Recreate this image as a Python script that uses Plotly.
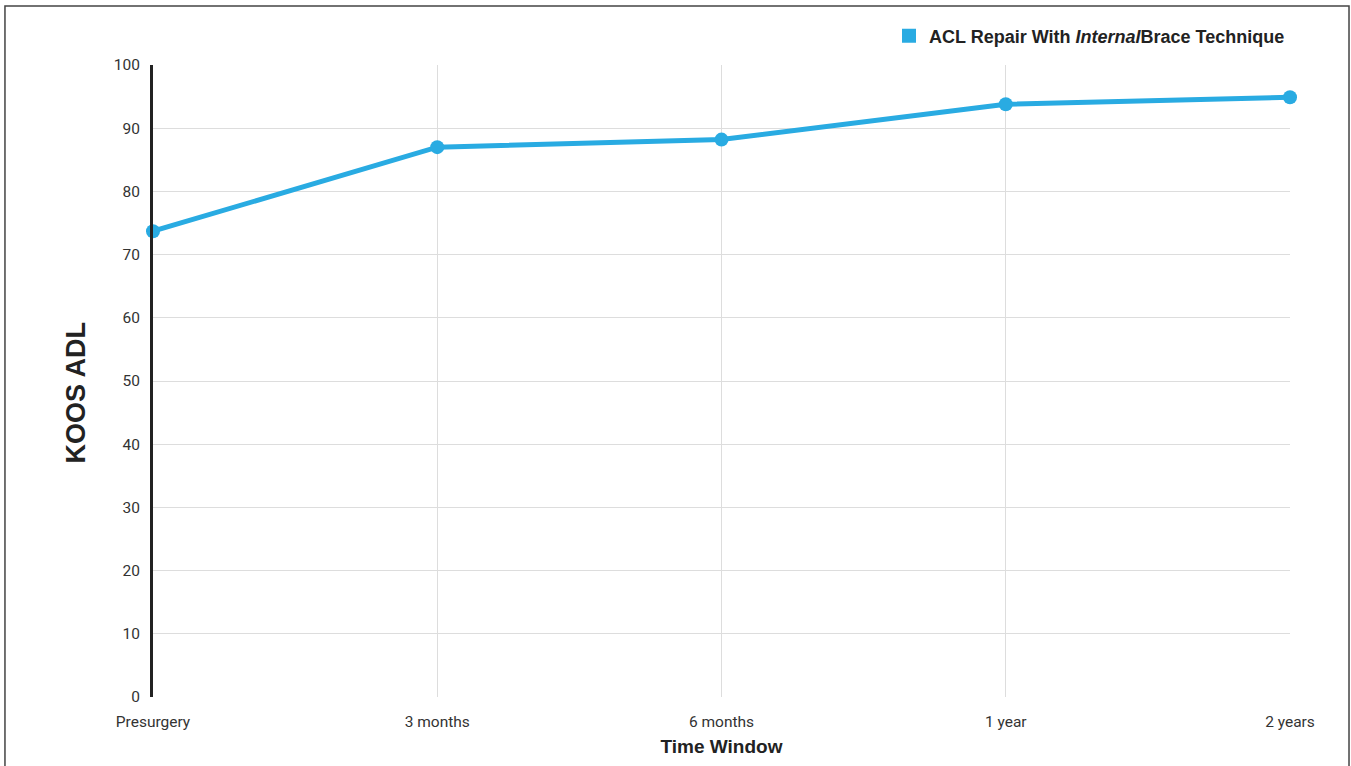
import plotly.graph_objects as go

categories = ["Presurgery", "3 months", "6 months", "1 year", "2 years"]
koos_adl = [73.7, 87.0, 88.2, 93.8, 94.9]
series_name = "<b>ACL Repair With <i>Internal</i>Brace Technique</b>"
y_ticks = [0, 10, 20, 30, 40, 50, 60, 70, 80, 90, 100]

BLUE = "#29ABE2"

fig = go.Figure()
fig.add_trace(go.Scatter(
    x=categories, y=koos_adl, mode="lines+markers",
    line=dict(color=BLUE, width=5),
    marker=dict(color=BLUE, size=14),
    showlegend=False, cliponaxis=False,
))
fig.add_trace(go.Scatter(
    x=[None], y=[None], mode="markers", name=series_name,
    marker=dict(color=BLUE, size=14, symbol="square"),
    showlegend=True,
))

fig.update_layout(
    width=1351, height=766,
    margin=dict(l=153, r=61, t=65, b=66),
    paper_bgcolor="white", plot_bgcolor="white",
    font=dict(family="Roboto, Liberation Sans, sans-serif", color="#333333", size=15),
    legend=dict(
        x=1.0, xanchor="right", y=1.046, yanchor="middle",
        font=dict(family="Liberation Sans, Arial, sans-serif", size=18, color="#222222"),
        bgcolor="rgba(0,0,0,0)", itemwidth=30,
    ),
    xaxis=dict(
        type="category", range=[0, 4],
        showgrid=True, gridcolor="#dddddd", gridwidth=1,
        showline=False, zeroline=False,
        ticks="outside", ticklen=10, tickcolor="rgba(0,0,0,0)",
        tickfont=dict(size=15.5, color="#333333"),
        title=dict(text="<b>Time Window</b>", standoff=10,
                   font=dict(family="Liberation Sans, Arial, sans-serif", size=19, color="#222222")),
    ),
    yaxis=dict(
        range=[0, 100], tickvals=y_ticks,
        showgrid=True, gridcolor="#dddddd", gridwidth=1,
        zeroline=False,
        showline=True, linecolor="#222222", linewidth=3,
        ticks="outside", ticklen=7, tickcolor="rgba(0,0,0,0)",
        tickfont=dict(size=15.5, color="#333333"),
    ),
    annotations=[dict(
        text="<b>KOOS ADL</b>", textangle=-90, showarrow=False,
        xref="paper", yref="paper", x=-0.0681, y=0.481,
        xanchor="center", yanchor="middle",
        font=dict(family="Liberation Sans, Arial, sans-serif", size=27, color="#222222"),
    )],
    shapes=[dict(
        type="rect", xref="paper", yref="paper",
        x0=-0.1302, x1=1.0519, y0=-0.15, y1=1.0932,
        line=dict(color="#444444", width=1.5), fillcolor="rgba(0,0,0,0)", layer="below",
    )],
)

fig.write_html("out.html", config={"displayModeBar": False},
               post_script="document.body.style.margin='0';document.body.style.padding='0';")
